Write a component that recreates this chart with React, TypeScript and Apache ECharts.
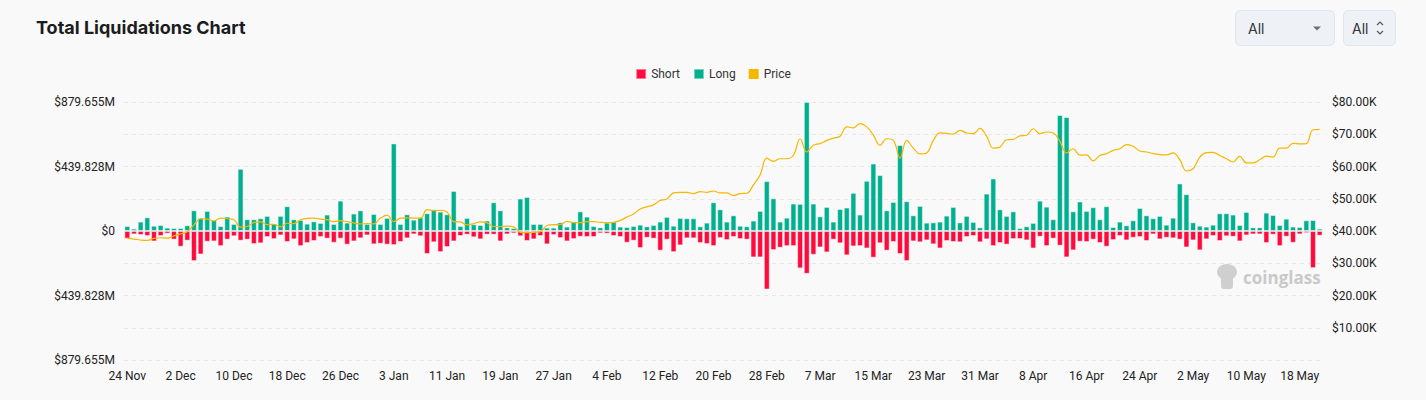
import React, { useEffect, useRef } from "react";
import * as echarts from "echarts";

// ---------- data ----------
const START_UTC = Date.UTC(2023, 10, 24); // 24 Nov 2023
const DAY_COUNT = 180;
const MONTHS = ["Jan", "Feb", "Mar", "Apr", "May", "Jun", "Jul", "Aug", "Sep", "Oct", "Nov", "Dec"];
const categories: string[] = Array.from({ length: DAY_COUNT }, (_, i) => {
  const d = new Date(START_UTC + i * 86400000);
  return `${d.getUTCDate()} ${MONTHS[d.getUTCMonth()]}`;
});

// Long liquidations ($M)
const longM = [
  34, 16, 64, 93, 36, 41, 23, 20, 20, 39, 141, 89, 137, 75, 34, 98, 48, 424, 80, 80, 87, 103, 50, 103, 169, 80, 75, 50, 66, 55,
  112, 48, 207, 57, 119, 141, 48, 116, 48, 89, 597, 48, 114, 77, 93, 121, 148, 132, 114, 273, 34, 89, 46, 41, 71, 196, 141, 25, 20, 221,
  232, 48, 48, 23, 23, 59, 30, 66, 134, 98, 34, 25, 57, 64, 30, 27, 34, 43, 32, 41, 64, 96, 36, 89, 87, 87, 32, 57, 196, 148,
  64, 107, 36, 32, 71, 137, 340, 223, 64, 91, 187, 185, 880, 187, 100, 164, 64, 150, 160, 260, 112, 342, 460, 381, 141, 198, 586, 203, 107, 171,
  57, 59, 64, 105, 164, 59, 103, 62, 25, 255, 358, 148, 103, 134, 20, 32, 55, 207, 166, 80, 791, 777, 134, 201, 137, 162, 80, 169, 27, 64,
  39, 73, 157, 107, 87, 103, 43, 91, 324, 251, 59, 36, 30, 43, 121, 121, 112, 41, 130, 25, 25, 125, 109, 41, 84, 30, 27, 73, 75, 16,
];

// Short liquidations ($M, shown downward)
const shortM = [
  52, 23, 27, 34, 71, 34, 18, 59, 107, 66, 205, 160, 73, 71, 103, 59, 36, 66, 59, 89, 84, 41, 55, 30, 75, 57, 103, 82, 68, 41,
  52, 80, 52, 93, 71, 50, 30, 91, 87, 93, 96, 75, 50, 23, 36, 157, 77, 144, 109, 71, 34, 25, 43, 57, 25, 25, 71, 23, 16, 36,
  68, 57, 34, 91, 27, 48, 71, 55, 39, 41, 41, 16, 18, 34, 41, 80, 66, 116, 46, 52, 134, 59, 144, 98, 50, 50, 82, 89, 103, 48,
  62, 41, 55, 59, 180, 180, 399, 130, 114, 103, 103, 255, 292, 162, 112, 146, 59, 84, 166, 105, 103, 119, 182, 84, 134, 75, 157, 205, 71, 77,
  64, 91, 119, 68, 75, 77, 41, 34, 77, 57, 103, 82, 93, 55, 55, 64, 119, 39, 103, 52, 100, 180, 132, 73, 75, 59, 82, 107, 62, 34,
  64, 46, 41, 68, 23, 57, 46, 50, 59, 112, 64, 132, 57, 34, 68, 36, 39, 71, 30, 23, 23, 82, 25, 103, 39, 80, 23, 14, 253, 32,
];

// BTC price ($K)
const priceK = [
  37.7, 37.5, 37.2, 37.1, 37.7, 37.9, 37.8, 38.5, 39.1, 39.8, 41.9, 43.8, 43.7, 43.1, 44.0, 43.8, 43.5, 41.2, 41.4, 42.6, 42.8, 42.0, 42.1, 41.3, 42.4, 42.3, 43.5, 43.9, 44.0, 43.7,
  43.5, 42.9, 43.2, 42.9, 42.5, 42.2, 42.3, 42.2, 44.0, 44.9, 42.9, 44.0, 44.1, 44.0, 44.0, 46.6, 46.3, 46.4, 45.9, 42.9, 42.8, 41.9, 42.3, 42.8, 42.5, 41.4, 41.4, 41.5, 41.3, 39.6,
  39.5, 39.6, 39.8, 41.7, 42.0, 42.0, 43.0, 42.6, 42.6, 42.9, 42.9, 42.7, 42.6, 42.7, 43.3, 44.3, 45.3, 46.8, 47.5, 48.1, 49.5, 49.9, 51.8, 52.0, 52.0, 51.6, 52.2, 52.0, 52.4, 51.8,
  51.8, 51.0, 51.6, 51.7, 54.3, 57.4, 62.6, 61.6, 62.4, 62.4, 63.5, 68.6, 64.5, 66.6, 67.1, 68.1, 68.8, 69.4, 72.3, 72.0, 73.3, 72.3, 69.7, 66.6, 68.6, 68.1, 62.6, 68.1, 65.7, 63.9,
  64.2, 68.1, 70.4, 70.3, 70.0, 71.2, 70.4, 70.2, 71.8, 69.4, 65.7, 66.0, 68.3, 68.4, 69.5, 69.7, 71.7, 70.2, 70.7, 70.4, 67.8, 64.2, 65.5, 63.5, 63.6, 61.7, 63.4, 64.0, 65.0, 65.5,
  66.8, 66.3, 64.8, 64.5, 64.0, 63.7, 63.6, 64.2, 62.1, 58.6, 59.3, 62.9, 64.3, 64.4, 63.4, 62.4, 61.4, 63.2, 61.1, 61.1, 62.1, 63.2, 62.9, 65.7, 65.7, 67.2, 67.0, 67.1, 71.4, 71.5,
];

const LEFT_MAX = 879.655;
const LEFT_INTERVAL = 439.8275;
const leftTickLabels = ["$879.655M", "$439.828M", "$0", "$439.828M", "$879.655M"];
const RIGHT_MAX = 80;
const RIGHT_INTERVAL = 10;

const RED = "#ff0a3c";
const TEAL = "#00b08f";
const GOLD = "#f5b800";
const FONT = "Roboto, 'Noto Sans', sans-serif";

export default function App() {
  const ref = useRef<HTMLDivElement>(null);

  useEffect(() => {
    if (!ref.current) return;
    const chart = echarts.init(ref.current, undefined, { renderer: "svg" });
    const option: any = {
      animation: false,
      backgroundColor: "#f9f9f9",
      textStyle: { fontFamily: FONT },
      title: {
        text: "Total Liquidations Chart",
        left: 31,
        top: 13,
        textStyle: { fontFamily: "Inter, 'Noto Sans', sans-serif", fontSize: 18, fontWeight: 700, color: "#1b1c1e" },
      },
      legend: {
        top: 63,
        left: "center",
        itemWidth: 10,
        itemHeight: 10,
        itemGap: 13,
        icon: "rect",
        textStyle: { fontFamily: FONT, fontSize: 12, color: "#333" },
        data: [
          { name: "Short", itemStyle: { color: RED } },
          { name: "Long", itemStyle: { color: TEAL } },
          { name: "Price", itemStyle: { color: GOLD } },
        ],
      },
      grid: { left: 124, right: 103, top: 102, bottom: 40, containLabel: false },
      xAxis: {
        type: "category",
        data: categories,
        boundaryGap: true,
        axisLine: { show: false, onZero: false },
        axisTick: { show: false },
        axisLabel: { interval: 7, margin: 10, fontSize: 12, color: "#222", fontFamily: FONT },
        splitLine: { show: false },
      },
      yAxis: [
        {
          type: "value",
          min: -LEFT_MAX,
          max: LEFT_MAX,
          interval: LEFT_INTERVAL,
          axisLine: { show: false },
          axisTick: { show: false },
          splitLine: { show: false },
          axisLabel: {
            margin: 9,
            fontSize: 12,
            color: "#222",
            fontFamily: FONT,
            formatter: (v: number) => leftTickLabels[Math.round((LEFT_MAX - v) / LEFT_INTERVAL)] ?? "",
          },
        },
        {
          type: "value",
          min: 0,
          max: RIGHT_MAX,
          interval: RIGHT_INTERVAL,
          position: "right",
          axisLine: { show: false },
          axisTick: { show: false },
          splitLine: { show: true, lineStyle: { color: "#e7e7e7", type: [4, 4], width: 1 } },
          axisLabel: {
            margin: 9,
            fontSize: 12,
            color: "#222",
            fontFamily: FONT,
            formatter: (v: number) => (v === 0 ? "" : `$${v.toFixed(2)}K`),
          },
        },
      ],
      series: [
        {
          name: "Short",
          type: "bar",
          stack: "liq",
          yAxisIndex: 0,
          barCategoryGap: "12%",
          data: shortM.map((v) => -v),
          itemStyle: { color: RED, borderColor: "rgba(255,255,255,0.45)", borderWidth: 1 },
        },
        {
          name: "Long",
          type: "bar",
          stack: "liq",
          yAxisIndex: 0,
          barCategoryGap: "12%",
          data: longM,
          itemStyle: { color: TEAL, borderColor: "rgba(255,255,255,0.45)", borderWidth: 1 },
        },
        {
          name: "Price",
          type: "line",
          yAxisIndex: 1,
          data: priceK,
          smooth: 0.4,
          symbol: "none",
          lineStyle: { color: GOLD, width: 1.2 },
          itemStyle: { color: GOLD },
          z: 5,
        },
      ],
      graphic: [
        // dropdown 1
        {
          type: "rect",
          shape: { x: 1235.5, y: 10.5, width: 99, height: 35, r: 5 },
          style: { fill: "#eef2f7", stroke: "#dde5ee", lineWidth: 1 },
        },
        {
          type: "text",
          x: 1248,
          y: 28,
          style: { text: "All", fontSize: 14, fill: "#333", fontFamily: "Inter, sans-serif", verticalAlign: "middle" },
        },
        {
          type: "polygon",
          shape: { points: [[1313, 26.5], [1321, 26.5], [1317, 30.5]] },
          style: { fill: "#6b6f75" },
        },
        // dropdown 2
        {
          type: "rect",
          shape: { x: 1343.5, y: 10.5, width: 52, height: 35, r: 5 },
          style: { fill: "#eef2f7", stroke: "#dde5ee", lineWidth: 1 },
        },
        {
          type: "text",
          x: 1352,
          y: 28,
          style: { text: "All", fontSize: 14, fill: "#333", fontFamily: "Inter, sans-serif", verticalAlign: "middle" },
        },
        {
          type: "polyline",
          shape: { points: [[1377, 25], [1380, 22], [1383, 25]] },
          style: { stroke: "#555", lineWidth: 1.2, fill: "none" },
        },
        {
          type: "polyline",
          shape: { points: [[1377, 31], [1380, 34], [1383, 31]] },
          style: { stroke: "#555", lineWidth: 1.2, fill: "none" },
        },
        // watermark
        {
          type: "group",
          children: [
            { type: "ellipse", shape: { cx: 1227, cy: 272, rx: 10, ry: 8 }, style: { fill: "#cfcfcf" } },
            { type: "rect", shape: { x: 1221, y: 276, width: 12, height: 13, r: 3 }, style: { fill: "#cfcfcf" } },
            {
              type: "text",
              x: 1243,
              y: 277,
              style: {
                text: "coinglass",
                fontSize: 17,
                fontWeight: 700,
                fill: "#c9c9c9",
                fontFamily: "'Open Sans', sans-serif",
                verticalAlign: "middle",
              },
            },
          ],
        },
      ],
    };
    chart.setOption(option);
    return () => chart.dispose();
  }, []);

  return (
    <div
      ref={ref}
      style={{ position: "fixed", left: 0, top: 0, width: 1426, height: 400, background: "#f9f9f9" }}
    />
  );
}
